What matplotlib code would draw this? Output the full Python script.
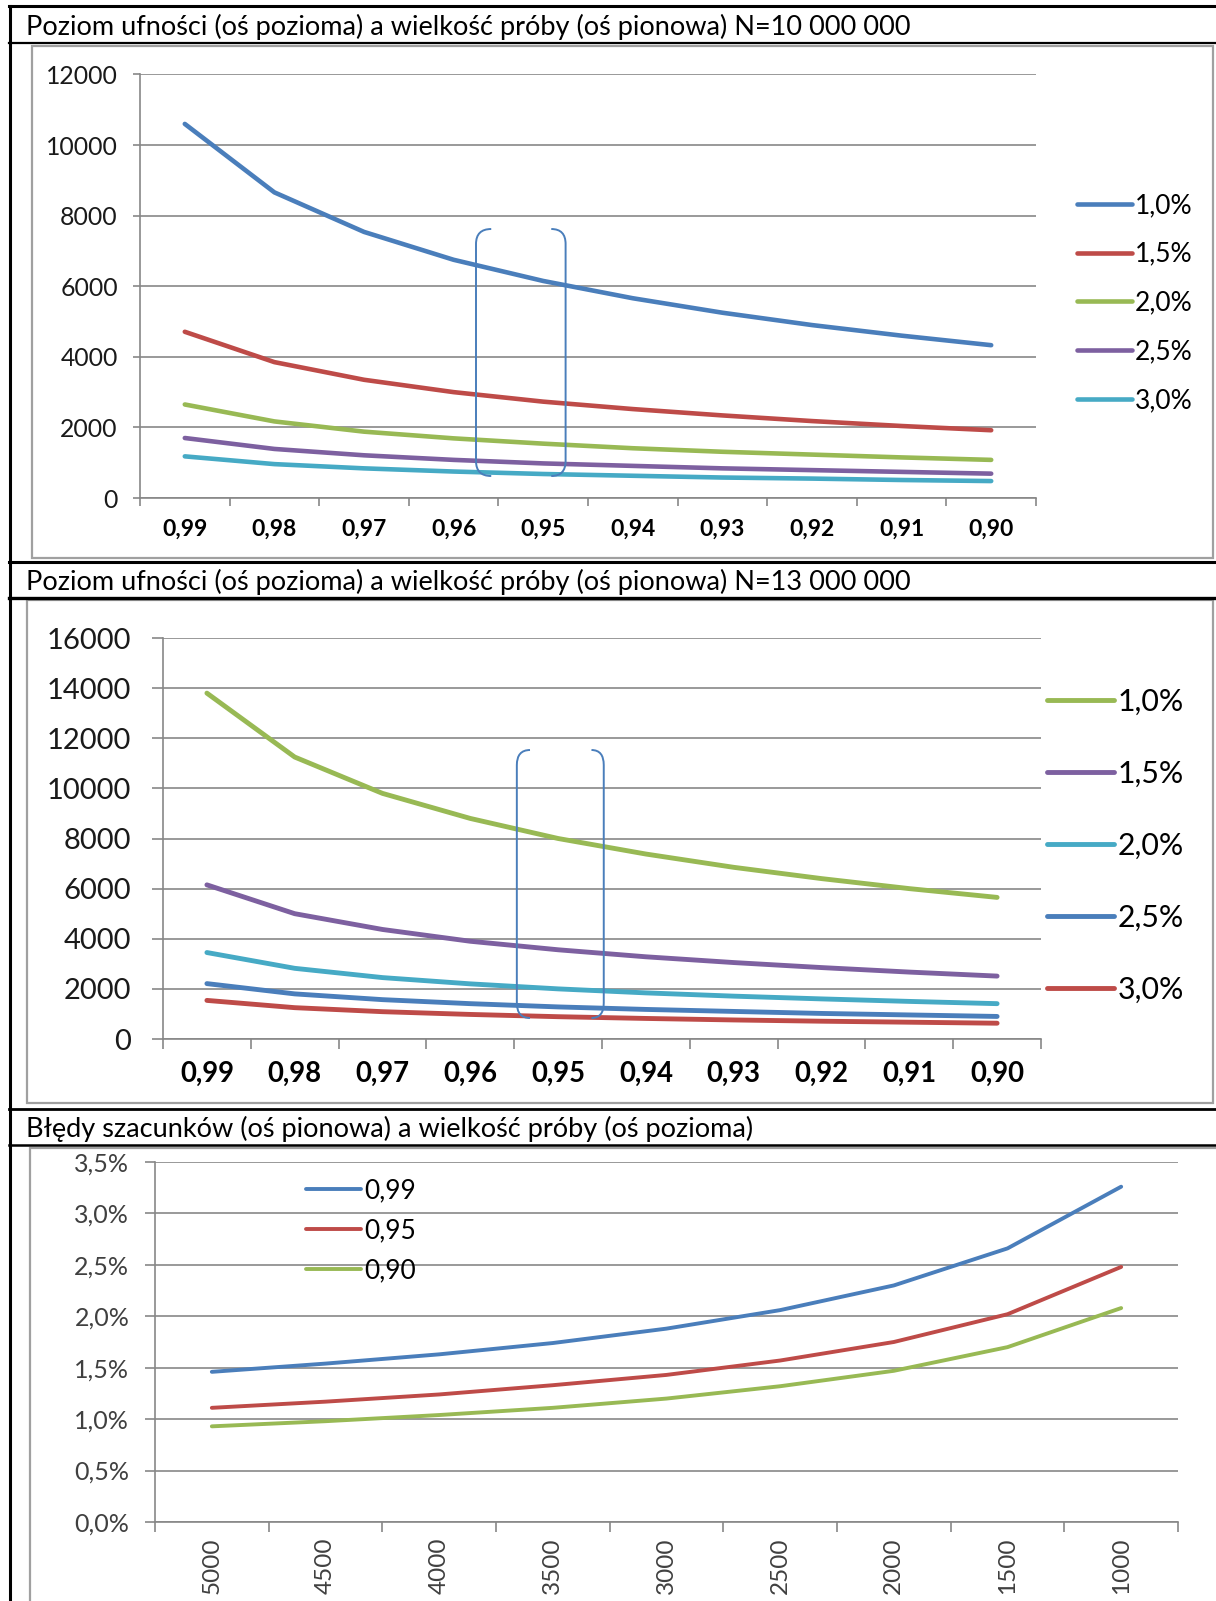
import matplotlib
matplotlib.use('Agg')
import matplotlib.pyplot as plt
from matplotlib.lines import Line2D
from matplotlib.patches import Rectangle, PathPatch
from matplotlib.path import Path
from matplotlib.ticker import FixedLocator, FuncFormatter

plt.rcParams['font.family'] = ['Lato', 'DejaVu Sans']

W, H = 1216, 1601

# --- dane ---
poziomy = ['0,99', '0,98', '0,97', '0,96', '0,95', '0,94', '0,93', '0,92', '0,91', '0,90']
bledy = ['1,0%', '1,5%', '2,0%', '2,5%', '3,0%']

# N = 10 000 000
n10_10 = [10600, 8660, 7540, 6750, 6150, 5660, 5250, 4900, 4600, 4330]
n10_15 = [4710, 3850, 3350, 3000, 2730, 2520, 2340, 2180, 2040, 1920]
n10_20 = [2650, 2170, 1880, 1690, 1540, 1410, 1310, 1230, 1150, 1080]
n10_25 = [1700, 1390, 1210, 1080, 980, 910, 840, 790, 740, 690]
n10_30 = [1180, 960, 840, 750, 680, 630, 580, 550, 510, 480]

# N = 13 000 000
n13_10 = [13800, 11250, 9800, 8800, 8000, 7380, 6850, 6400, 6000, 5650]
n13_15 = [6150, 5000, 4370, 3900, 3560, 3280, 3050, 2850, 2670, 2510]
n13_20 = [3450, 2820, 2450, 2200, 2000, 1840, 1710, 1600, 1500, 1410]
n13_25 = [2210, 1800, 1570, 1410, 1280, 1180, 1100, 1020, 960, 900]
n13_30 = [1540, 1250, 1090, 980, 890, 820, 760, 710, 670, 630]

# bledy szacunkow (%) a wielkosc proby
proby = ['5000', '4500', '4000', '3500', '3000', '2500', '2000', '1500', '1000']
ufnosc = ['0,99', '0,95', '0,90']
e_099 = [1.46, 1.54, 1.63, 1.74, 1.88, 2.06, 2.30, 2.66, 3.26]
e_095 = [1.11, 1.17, 1.24, 1.33, 1.43, 1.57, 1.75, 2.02, 2.48]
e_090 = [0.93, 0.98, 1.04, 1.11, 1.20, 1.32, 1.47, 1.70, 2.08]

NIEB, CZER, ZIEL, FIOL, TURK = '#4A7EBB', '#BE4B48', '#98B954', '#7D60A0', '#46AAC5'
SZARY = '#878787'

fig = plt.figure(figsize=(W / 100, H / 100), dpi=100)


def fx(x):
    return x / W


def fy(y):
    return 1 - y / H


def osie(lewo, gora, prawo, dol):
    return fig.add_axes([fx(lewo), fy(dol), (prawo - lewo) / W, (dol - gora) / H])


def linia(x0, x1, y0, y1, kolor='black', lw=1.5):
    fig.add_artist(Line2D([fx(x0), fx(x1)], [fy(y0), fy(y1)], color=kolor, lw=lw,
                          transform=fig.transFigure))


def ramka(x0, y0, x1, y1):
    fig.add_artist(Rectangle((fx(x0), fy(y1)), (x1 - x0) / W, (y1 - y0) / H,
                             fill=False, edgecolor='#A0A0A0', lw=1.6,
                             transform=fig.transFigure))


def wyglad(ax, n_kat, dl_y, dl_x):
    for s in ['top', 'right']:
        ax.spines[s].set_visible(False)
    for s in ['left', 'bottom']:
        ax.spines[s].set_color(SZARY)
        ax.spines[s].set_linewidth(1.2)
    ax.set_xlim(-0.5, n_kat - 0.5)
    ax.set_xticks(range(n_kat))
    ax.xaxis.set_minor_locator(FixedLocator([i - 0.5 for i in range(n_kat + 1)]))
    ax.tick_params(axis='x', which='major', length=0)
    ax.tick_params(axis='x', which='minor', length=dl_x, color=SZARY, width=1.2)
    ax.tick_params(axis='y', length=dl_y, color=SZARY, width=1.2)
    ax.grid(axis='y', color=SZARY, lw=1.2)
    ax.set_axisbelow(True)


def nawias(ax, x_pion, x_konc, y_dol, y_gora, r_y):
    wierzch = [(x_konc, y_gora), (x_pion, y_gora), (x_pion, y_gora - r_y),
               (x_pion, y_dol + r_y), (x_pion, y_dol), (x_konc, y_dol)]
    kody = [Path.MOVETO, Path.CURVE3, Path.CURVE3, Path.LINETO, Path.CURVE3, Path.CURVE3]
    ax.add_patch(PathPatch(Path(wierzch, kody), fill=False, edgecolor=NIEB, lw=1.4,
                           clip_on=False, zorder=5))


# --- tabela ---
linia(9, W, 6.5, 6.5, lw=2.2)
linia(9, W, 43, 43, lw=1.6)
linia(9, W, 562, 562, lw=2.2)
linia(9, W, 598, 598, lw=2.4)
linia(9, W, 1109, 1109, lw=2.0)
linia(9, W, 1145, 1145, lw=1.8)
linia(9.5, 9.5, 6, H, lw=2.2)
ramka(32, 46, 1213, 558)
ramka(27, 600, 1213, 1103)
ramka(30, 1148, 1218, 1605)

fig.text(fx(26), fy(27), 'Poziom ufności (oś pozioma) a wielkość próby (oś pionowa) N=10 000 000',
         va='center', fontsize=19.5)
fig.text(fx(26), fy(582), 'Poziom ufności (oś pozioma) a wielkość próby (oś pionowa) N=13 000 000',
         va='center', fontsize=19.5)
fig.text(fx(26), fy(1129), 'Błędy szacunków (oś pionowa) a wielkość próby (oś pozioma)',
         va='center', fontsize=19.5)

x10 = range(len(poziomy))

# --- wykres 1 ---
ax1 = osie(140, 74.5, 1036, 498)
wyglad(ax1, len(poziomy), 5, 6)
for dane, et, kol in zip([n10_10, n10_15, n10_20, n10_25, n10_30], bledy,
                         [NIEB, CZER, ZIEL, FIOL, TURK]):
    ax1.plot(x10, dane, color=kol, lw=3.3, label=et, solid_capstyle='round', solid_joinstyle='round')
ax1.set_ylim(0, 12000)
ax1.set_yticks(range(0, 12001, 2000))
ax1.set_xticklabels(poziomy, fontsize=16.5, fontweight='bold')
ax1.tick_params(axis='x', which='major', pad=15)
ax1.tick_params(axis='y', labelsize=17.8, pad=11, labelcolor='#1a1a1a')
ax1.legend(loc='upper left', bbox_to_anchor=(fx(1077), fy(193)), bbox_transform=fig.transFigure,
           frameon=False, fontsize=19, handlelength=2.1, handletextpad=0.1,
           borderpad=0, borderaxespad=0, labelspacing=0.9)
nawias(ax1, 3.25, 3.42, 623, 7622, 425)
nawias(ax1, 4.25, 4.09, 623, 7622, 425)

# --- wykres 2 ---
ax2 = osie(163, 638, 1041, 1039)
wyglad(ax2, len(poziomy), 8, 7.5)
for dane, et, kol in zip([n13_10, n13_15, n13_20, n13_25, n13_30], bledy,
                         [ZIEL, FIOL, TURK, NIEB, CZER]):
    ax2.plot(x10, dane, color=kol, lw=3.5, label=et, solid_capstyle='round', solid_joinstyle='round')
ax2.set_ylim(0, 16000)
ax2.set_yticks(range(0, 16001, 2000))
ax2.set_xticklabels(poziomy, fontsize=19.8, fontweight='bold')
ax2.tick_params(axis='x', which='major', pad=16)
ax2.tick_params(axis='y', labelsize=21, pad=15, labelcolor='#1a1a1a')
ax2.legend(loc='upper left', bbox_to_anchor=(fx(1047), fy(688)), bbox_transform=fig.transFigure,
           frameon=False, fontsize=21.8, handlelength=2.2, handletextpad=0.12,
           borderpad=0, borderaxespad=0, labelspacing=1.45)
nawias(ax2, 3.53, 3.68, 838, 11531, 600)
nawias(ax2, 4.52, 4.38, 838, 11531, 600)

# --- wykres 3 ---
ax3 = osie(155, 1162, 1178, 1522)
wyglad(ax3, len(proby), 7.5, 7.5)
for dane, et, kol in zip([e_099, e_095, e_090], ufnosc, [NIEB, CZER, ZIEL]):
    ax3.plot(range(len(proby)), dane, color=kol, lw=2.8, label=et, solid_capstyle='round', solid_joinstyle='round')
ax3.set_ylim(0, 3.5)
ax3.set_yticks([i * 0.5 for i in range(8)])
ax3.yaxis.set_major_formatter(FuncFormatter(lambda v, p: f'{v:.1f}%'.replace('.', ',')))
ax3.set_xticklabels(proby, fontsize=17.5, rotation=90, color='#404040')
ax3.tick_params(axis='x', which='major', pad=11)
ax3.tick_params(axis='y', labelsize=18, pad=11, labelcolor='#404040')
ax3.legend(loc='upper left', bbox_to_anchor=(fx(306), fy(1178)), bbox_transform=fig.transFigure,
           frameon=False, fontsize=19, handlelength=2.1, handletextpad=0.1,
           borderpad=0, borderaxespad=0, labelspacing=0.58)

fig.savefig('out.png', dpi=100)
